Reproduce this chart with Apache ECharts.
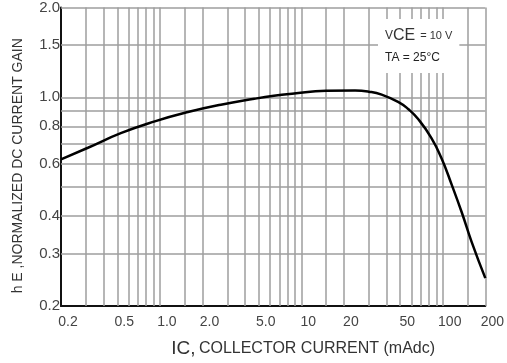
<!DOCTYPE html>
<html>
<head>
<meta charset="utf-8">
<script src="https://cdn.jsdelivr.net/npm/echarts@6/dist/echarts.min.js"></script>
<style>
html,body{margin:0;padding:0;background:#fff;}
#chart{width:507px;height:363px;}
</style>
</head>
<body>
<div id="chart"></div>
<script>
// Collector current (mAdc) and normalized DC current gain
const icValues   = [0.2, 0.31, 0.535, 0.92, 1.58, 2.7, 4.65, 6.4, 8.6, 15, 24, 30, 37, 49, 57, 67, 83, 98, 116, 136, 160, 200];
const gainValues = [0.62, 0.678, 0.76, 0.831, 0.893, 0.945, 0.989, 1.012, 1.028, 1.052, 1.054, 1.045, 1.021, 0.962, 0.914, 0.846, 0.732, 0.625, 0.508, 0.413, 0.328, 0.248];

// Axis tick labels
const xTickValues = [0.2, 0.5, 1, 2, 5, 10, 20, 50, 100, 200];
const xTickLabels = ['0.2', '0.5', '1.0', '2.0', '5.0', '10', '20', '50', '100', '200'];
const yTickValues = [0.2, 0.3, 0.4, 0.6, 0.8, 1.0, 1.5, 2.0];
const yTickLabels = ['0.2', '0.3', '0.4', '0.6', '0.8', '1.0', '1.5', '2.0'];

// Grid lines
const xGridValues = [0.3, 0.4, 0.5, 0.6, 0.7, 0.8, 0.9, 1, 1.5, 2, 3, 4, 5, 6, 7, 8, 9, 10, 15, 20, 30, 40, 50, 60, 70, 80, 90, 100, 150, 200];
const yGridValues = [0.3, 0.4, 0.5, 0.6, 0.7, 0.8, 0.9, 1.0, 1.5, 2.0];

function labelFor(values, labels) {
  return function (v) {
    for (let i = 0; i < values.length; i++) {
      if (Math.abs(values[i] - v) / values[i] < 1e-6) return labels[i];
    }
    return '';
  };
}

const chart = echarts.init(document.getElementById('chart'), null, {renderer: 'canvas'});
const gridMarks = xGridValues.map(v => ({xAxis: v})).concat(yGridValues.map(v => ({yAxis: v})));

chart.setOption({
  animation: false,
  backgroundColor: '#fff',
  textStyle: {fontFamily: 'Liberation Sans, Arial, sans-serif'},
  title: {
    left: 378, top: 17,
    padding: [8, 7, 9, 7],
    backgroundColor: '#fff',
    text: '{v|V}{ce|CE} {s|= 10 V}\n{t|TA = 25°C}',
    textStyle: {
      fontWeight: 'normal',
      rich: {
        v: {fontSize: 12, color: '#333', lineHeight: 22, fontFamily: 'Liberation Sans', fontWeight: 'normal'},
        ce: {fontSize: 16, color: '#333', lineHeight: 22, fontFamily: 'Liberation Sans', fontWeight: 'normal'},
        s: {fontSize: 11, color: '#333', lineHeight: 22, fontFamily: 'Liberation Sans', fontWeight: 'normal'},
        t: {fontSize: 12, color: '#222', lineHeight: 22, fontFamily: 'Liberation Sans', fontWeight: 'normal'}
      }
    }
  },
  grid: {left: 61, right: 20, top: 7, bottom: 56, containLabel: false},
  xAxis: {
    type: 'log', logBase: 10, min: 0.2, max: 200,
    name: '{a|IC,} {b|COLLECTOR CURRENT (mAdc)}',
    nameLocation: 'middle', nameGap: 33,
    nameTextStyle: {
      padding: [0, 0, 0, 60],
      rich: {
        a: {fontSize: 19, color: '#333', fontFamily: 'Liberation Sans'},
        b: {fontSize: 16, color: '#333', fontFamily: 'Liberation Sans'}
      }
    },
    axisLine: {show: true, lineStyle: {color: '#111', width: 2}},
    axisTick: {show: false},
    splitLine: {show: false},
    minorSplitLine: {show: false},
    axisLabel: {
      customValues: xTickValues,
      formatter: labelFor(xTickValues, xTickLabels),
      fontSize: 14, color: '#444', margin: 9,
      padding: [0, 0, 0, 14],
      showMinLabel: true, showMaxLabel: true
    }
  },
  yAxis: {
    type: 'log', logBase: 10, min: 0.2, max: 2.0,
    name: 'h E ,NORMALIZED DC CURRENT GAIN',
    nameLocation: 'middle', nameGap: 36,
    nameTextStyle: {fontSize: 14, color: '#333', padding: [0, 18, 0, 0]},
    axisLine: {show: true, lineStyle: {color: '#111', width: 2}},
    axisTick: {show: false},
    splitLine: {show: false},
    axisLabel: {
      customValues: yTickValues,
      formatter: labelFor(yTickValues, yTickLabels),
      fontSize: 15, color: '#444', margin: 1,
      showMinLabel: true, showMaxLabel: true
    }
  },
  series: [
    {
      type: 'line',
      data: [],
      silent: true,
      markLine: {
        silent: true,
        symbol: ['none', 'none'],
        label: {show: false},
        lineStyle: {color: '#9e9e9e', width: 1.5, type: 'solid'},
        emphasis: {disabled: true},
        data: gridMarks
      }
    },
    {
      type: 'line',
      data: icValues.map((x, i) => [x, gainValues[i]]),
      smooth: 0.5,
      showSymbol: false,
      symbol: 'none',
      silent: true,
      z: 5,
      lineStyle: {color: '#000', width: 2.5}
    }
  ]
});
</script>
</body>
</html>
